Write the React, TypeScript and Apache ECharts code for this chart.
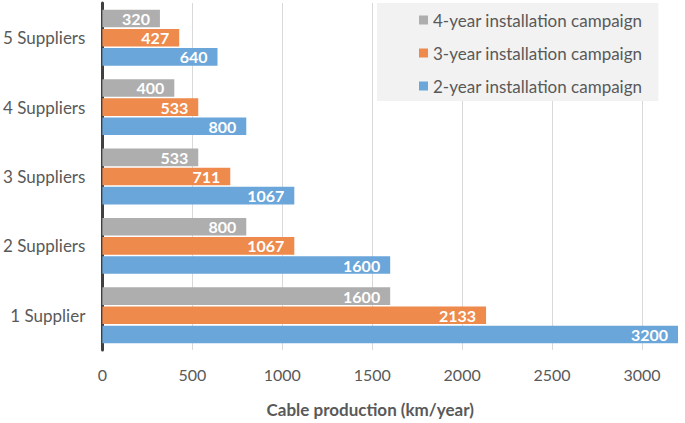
import React, { useEffect, useRef } from "react";
import * as echarts from "echarts";

const categories = ["1 Supplier", "2 Suppliers", "3 Suppliers", "4 Suppliers", "5 Suppliers"];
const twoYear = [3200, 1600, 1067, 800, 640];
const threeYear = [2133, 1067, 711, 533, 427];
const fourYear = [1600, 800, 533, 400, 320];
const seriesNames = [
  "4-year installation campaign",
  "3-year installation campaign",
  "2-year installation campaign",
];
const xTicks = [0, 500, 1000, 1500, 2000, 2500, 3000];
const axisTitle = "Cable production (km/year)";

const FONT = "Lato, 'Noto Sans', sans-serif";
const colors = ["#aeaeae", "#ee8a4c", "#6aa6d9"];

export default function App() {
  const ref = useRef<HTMLDivElement>(null);
  useEffect(() => {
    if (!ref.current) return;
    const chart = echarts.init(ref.current, null, { renderer: "svg" });
    const values = [fourYear, threeYear, twoYear];
    const label = {
      show: true,
      position: "insideRight",
      distance: 10,
      color: "#ffffff",
      fontWeight: "bold",
      fontSize: 16,
      fontFamily: FONT,
    };
    chart.setOption({
      animation: false,
      textStyle: { fontFamily: FONT },
      grid: { left: 102, right: 7, top: 3, bottom: 64, containLabel: false },
      legend: {
        data: seriesNames,
        orient: "vertical",
        left: 377,
        top: 3,
        padding: [7, 16, 5, 42],
        backgroundColor: "#f2f2f2",
        itemWidth: 9,
        itemHeight: 9,
        itemGap: 13,
        icon: "rect",
        textStyle: { fontSize: 17, color: "#595959", fontFamily: FONT, lineHeight: 20 },
      },
      xAxis: {
        type: "value",
        min: 0,
        max: 3200,
        interval: 500,
        axisLine: { show: false },
        axisTick: { show: false },
        splitLine: { show: true, lineStyle: { color: ["#d9d9d9", "#d9d9d9", "#d9d9d9", "#d9d9d9", "#d9d9d9", "#d9d9d9", "#d9d9d9", "rgba(0,0,0,0)"], width: 1 } },
        axisLabel: {
          margin: 16,
          fontSize: 16,
          color: "#595959",
          fontFamily: FONT,
          formatter: (v: number) => (xTicks.indexOf(v) >= 0 ? String(v) : ""),
        },
        name: axisTitle,
        nameLocation: "middle",
        nameGap: 51,
        nameTextStyle: { fontSize: 17, fontWeight: "bold", color: "#595959", fontFamily: FONT, padding: [0, 40, 0, 0] },
      },
      yAxis: {
        type: "category",
        data: categories,
        axisLine: { show: true, lineStyle: { color: "#404040", width: 3 } },
        axisTick: { show: false },
        axisLabel: { margin: 17, fontSize: 17, color: "#595959", fontFamily: FONT },
      },
      series: seriesNames.map((name, i) => ({
        name,
        type: "bar",
        data: values[i],
        barCategoryGap: "19.5%",
        barGap: "9%",
        itemStyle: { color: colors[i] },
        label,
      })),
    });
    return () => chart.dispose();
  }, []);
  return (
    <div style={{ position: "fixed", left: 0, top: 0, width: 685, height: 423, background: "#ffffff" }}>
      <div ref={ref} style={{ width: 685, height: 423 }} />
    </div>
  );
}
